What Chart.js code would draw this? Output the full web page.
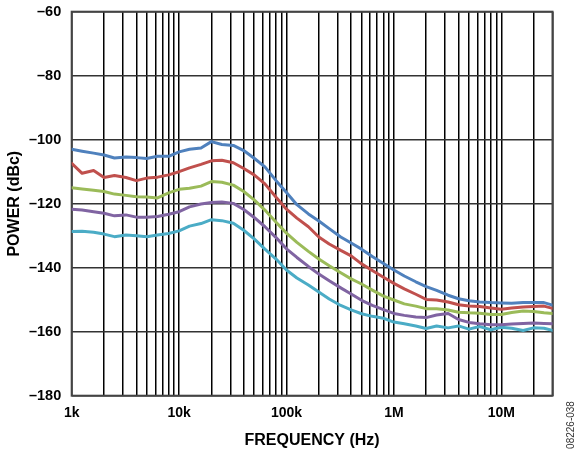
<!DOCTYPE html>
<html>
<head>
<meta charset="utf-8">
<script src="https://cdn.jsdelivr.net/npm/chart.js@4"></script>
<style>
  html, body { margin: 0; padding: 0; background: #fff; }
  #wrap { width: 576px; height: 454px; position: relative; }
</style>
</head>
<body>
<div id="wrap"><canvas id="power-chart"></canvas></div>
<script>
// frequency points (Hz), 10 per decade
const freqs = [
  1e3, 1.25e3, 1.6e3, 2e3, 2.5e3, 3.2e3, 4e3, 5e3, 6.3e3, 8e3,
  1e4, 1.25e4, 1.6e4, 2e4, 2.5e4, 3.2e4, 4e4, 5e4, 6.3e4, 8e4,
  1e5, 1.25e5, 1.6e5, 2e5, 2.5e5, 3.2e5, 4e5, 5e5, 6.3e5, 8e5,
  1e6, 1.25e6, 1.6e6, 2e6, 2.5e6, 3.2e6, 4e6, 5e6, 6.3e6, 8e6,
  1e7, 1.25e7, 1.6e7, 2e7, 2.5e7, 3e7
];

// power (dBc)
const blue = [
  -103.0, -103.6, -104.2, -104.8, -105.7, -105.4, -105.6, -105.9, -105.2, -105.2,
  -103.8, -103.0, -102.6, -100.6, -101.5, -101.8, -103.4, -105.8, -108.5, -112.8,
  -116.5, -120.3, -123.2, -125.4, -127.8, -130.4, -132.3, -134.2, -136.5, -138.7,
  -140.7, -142.6, -144.4, -145.9, -147.1, -148.6, -149.7, -150.3, -150.7, -150.9,
  -151.0, -151.1, -150.9, -150.9, -150.9, -151.7
];
const red = [
  -107.4, -110.5, -109.6, -111.8, -111.2, -111.8, -112.8, -112.0, -111.7, -111.0,
  -110.0, -108.8, -107.7, -106.6, -106.4, -107.2, -109.0, -111.0, -113.8, -118.0,
  -121.7, -124.5, -127.2, -130.4, -132.6, -134.6, -136.3, -138.8, -140.9, -143.0,
  -144.9, -146.6, -148.3, -149.9, -150.1, -150.7, -151.6, -152.0, -152.1, -152.6,
  -153.0, -152.6, -152.3, -152.1, -152.0, -152.7
];
const green = [
  -115.0, -115.4, -115.8, -116.2, -117.0, -117.4, -117.8, -117.9, -118.2, -116.6,
  -115.5, -115.2, -114.5, -113.1, -113.3, -114.2, -116.2, -118.8, -122.0, -125.8,
  -129.2, -132.1, -134.9, -137.3, -139.4, -141.6, -143.5, -145.1, -147.0, -148.9,
  -150.1, -151.3, -152.0, -152.8, -152.8, -153.2, -153.9, -154.1, -154.2, -154.6,
  -154.6, -154.0, -153.5, -153.7, -154.1, -154.3
];
const purple = [
  -121.7, -122.0, -122.5, -123.0, -123.8, -123.5, -124.2, -124.2, -124.0, -123.3,
  -122.5, -121.0, -120.1, -119.6, -119.5, -119.9, -121.8, -124.3, -127.2, -130.6,
  -134.1, -136.8, -139.6, -142.0, -144.1, -146.3, -148.2, -150.2, -151.8, -153.1,
  -154.3, -154.9, -155.4, -155.6, -154.8, -154.3, -156.2, -157.1, -157.5, -157.8,
  -157.8, -157.6, -157.4, -157.3, -157.4, -157.5
];
const cyan = [
  -128.7, -128.6, -128.9, -129.5, -130.3, -129.8, -130.0, -130.3, -129.8, -129.3,
  -128.5, -127.0, -126.2, -125.0, -125.3, -126.1, -128.3, -131.0, -134.2, -137.3,
  -140.7, -143.2, -145.4, -147.6, -149.8, -151.8, -153.2, -154.4, -155.2, -155.8,
  -157.0, -157.5, -158.2, -159.0, -158.2, -158.8, -158.2, -159.2, -158.4, -159.4,
  -158.6, -158.9, -159.6, -158.8, -158.9, -159.6
];

const xTickValues = [1e3, 1e4, 1e5, 1e6, 1e7];
const xTickLabels = ['1k', '10k', '100k', '1M', '10M'];

// vertical grid lines: 1..9 per decade, then 10M, 20M, 30M
const gridFreqs = [];
[1e3, 1e4, 1e5, 1e6].forEach((d) => {
  for (let k = 1; k <= 9; k++) gridFreqs.push(Math.round(k * d));
});
gridFreqs.push(1e7, 2e7, 3e7);

const colors = ['#4F81BD', '#C0504D', '#9BBB59', '#8064A2', '#4BACC6'];
const series = [blue, red, green, purple, cyan];

const frame = {
  id: 'frame',
  beforeDatasetsDraw(chart) {
    const { ctx, chartArea: a } = chart;
    ctx.save();
    ctx.strokeStyle = '#444';
    ctx.lineWidth = 2;
    ctx.strokeRect(a.left, a.top, a.right - a.left, a.bottom - a.top);
    ctx.restore();
  },
  afterDraw(chart) {
    const { ctx } = chart;
    ctx.save();
    ctx.translate(571.5, 425);
    ctx.rotate(-Math.PI / 2);
    ctx.fillStyle = '#333';
    ctx.font = '10px "Liberation Sans", Arial, sans-serif';
    ctx.textAlign = 'center';
    ctx.textBaseline = 'middle';
    ctx.fillText('08226-038', 0, 0);
    ctx.restore();
  }
};

const fontFamily = '"Liberation Sans", Arial, sans-serif';

new Chart(document.getElementById('power-chart').getContext('2d'), {
  type: 'line',
  data: {
    datasets: series.map((s, i) => ({
      data: freqs.map((f, j) => ({ x: f, y: s[j] })),
      borderColor: colors[i],
      borderWidth: 3,
      pointRadius: 0,
      tension: 0,
      fill: false,
      borderJoinStyle: 'round',
      borderCapStyle: 'round',
    })),
  },
  options: {
    responsive: true,
    maintainAspectRatio: false,
    animation: false,
    layout: { padding: { left: 0, right: 23.5, top: 11.7, bottom: 0 } },
    plugins: { legend: { display: false }, tooltip: { enabled: false } },
    scales: {
      x: {
        type: 'logarithmic',
        min: 1e3,
        max: 3e7,
        afterBuildTicks: (scale) => {
          scale.ticks = gridFreqs.map((v) => ({ value: v }));
        },
        afterFit: (scale) => {
          scale.height = 58.3;
          scale.paddingLeft = 0;
          scale.paddingRight = 0;
        },
        ticks: {
          autoSkip: false,
          maxRotation: 0,
          padding: 9,
          color: '#000',
          font: { family: fontFamily, size: 14, weight: 'bold' },
          callback: (v) => {
            const i = xTickValues.indexOf(v);
            return i >= 0 ? xTickLabels[i] : '';
          },
        },
        grid: { color: '#000', lineWidth: 1.5, drawTicks: false },
        border: { display: false },
        title: {
          display: true,
          text: 'FREQUENCY (Hz)',
          color: '#000',
          font: { family: fontFamily, size: 16, weight: 'bold' },
          padding: { top: 0, bottom: 3.4 },
        },
      },
      y: {
        min: -180,
        max: -60,
        afterFit: (scale) => {
          scale.width = 71.7;
          scale.paddingTop = 0;
          scale.paddingBottom = 0;
        },
        ticks: {
          stepSize: 20,
          padding: 10.5,
          color: '#000',
          font: { family: fontFamily, size: 14.5, weight: 'bold' },
          callback: (v) => '\u2013' + Math.abs(v),
        },
        grid: { color: '#333', lineWidth: 1.6, drawTicks: false },
        border: { display: false },
        title: {
          display: true,
          text: 'POWER (dBc)',
          color: '#000',
          font: { family: fontFamily, size: 16, weight: 'bold' },
          padding: { top: 4.6, bottom: 0 },
        },
      },
    },
  },
  plugins: [frame],
});
</script>
</body>
</html>
